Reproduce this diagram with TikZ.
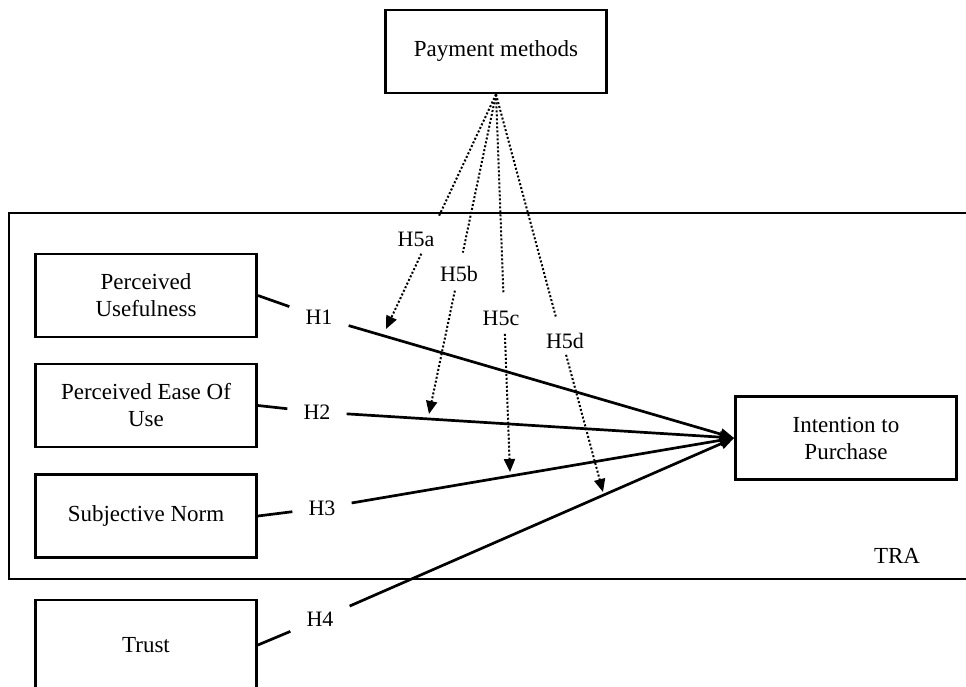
\documentclass[tikz,border=0pt]{standalone}
\usepackage{fontspec}
\setmainfont{Liberation Serif}
\usetikzlibrary{arrows.meta,calc}
\begin{document}
\begin{tikzpicture}[x=1pt,y=-1pt,
  box/.style={draw, line width=2.8pt, minimum width=221pt, minimum height=83pt, align=center, font=\fontsize{23}{27}\selectfont, inner sep=0pt},
  hlab/.style={font=\fontsize{22}{26}\selectfont, inner xsep=16pt, inner ysep=6pt},
  plab/.style={font=\fontsize{22}{26}\selectfont, inner sep=1pt},
  link/.style={line width=2.7pt},
  conn/.style={link, -{Triangle[length=14pt,width=11pt]}},
  dotl/.style={line width=2pt, dash pattern=on 2pt off 2pt},
  dota/.style={dotl, -{Triangle[length=13pt,width=11pt]}}
]
\useasboundingbox (0,0) rectangle (966,687);
\fill[white] (0,0) rectangle (966,687);
% TRA frame (cut off at the right edge)
\draw[line width=1.5pt] (972,213) -- (9,213) -- (9,579) -- (972,579);
\node[font=\fontsize{23}{27}\selectfont] (tra) at (897,556) {TRA};

% boxes
\node[box] (pm) at (496,51.5) {Payment methods};
\node[box] (pu) at (146,295.5) {Perceived\\Usefulness};
\node[box] (peu) at (146,405.5) {Perceived Ease Of\\Use};
\node[box] (sn) at (146,516) {Subjective Norm};
\node[box, minimum height=90pt] (tr) at (146,645) {Trust};
\node[box] (ip) at (846,438) {Intention to\\Purchase};

% hypothesis labels
\node[hlab] (h1) at (319,317) {H1};
\node[hlab] (h2) at (317,412) {H2};
\node[hlab] (h3) at (322,508) {H3};
\node[hlab] (h4) at (320,619) {H4};

\draw[link] (pu.east) -- (h1);
\draw[conn] (h1) -- (ip.west);
\draw[link] (peu.east) -- (h2);
\draw[conn] (h2) -- (ip.west);
\draw[link] (sn.east) -- (h3);
\draw[conn] (h3) -- (ip.west);
\draw[link] (tr.east) -- (h4);
\draw[conn] (h4) -- (ip.west);

% moderating labels
\node[plab] (h5a) at (416,239) {H5a};
\node[plab] (h5b) at (459,274) {H5b};
\node[plab] (h5c) at (501,318) {H5c};
\node[plab] (h5d) at (565,341) {H5d};

\coordinate (ta) at (386,329);
\coordinate (tb) at (429,414);
\coordinate (tc) at (510,472);
\coordinate (td) at (603,492);

\draw[dotl] (pm.south) -- ($(pm.south)!0.517!(ta)$);
\draw[dota] ($(pm.south)!0.679!(ta)$) -- (ta);
\draw[dotl] (pm.south) -- ($(pm.south)!0.495!(tb)$);
\draw[dota] ($(pm.south)!0.614!(tb)$) -- (tb);
\draw[dotl] (pm.south) -- ($(pm.south)!0.528!(tc)$);
\draw[dota] ($(pm.south)!0.634!(tc)$) -- (tc);
\draw[dotl] (pm.south) -- ($(pm.south)!0.559!(td)$);
\draw[dota] ($(pm.south)!0.655!(td)$) -- (td);
\end{tikzpicture}
\end{document}
